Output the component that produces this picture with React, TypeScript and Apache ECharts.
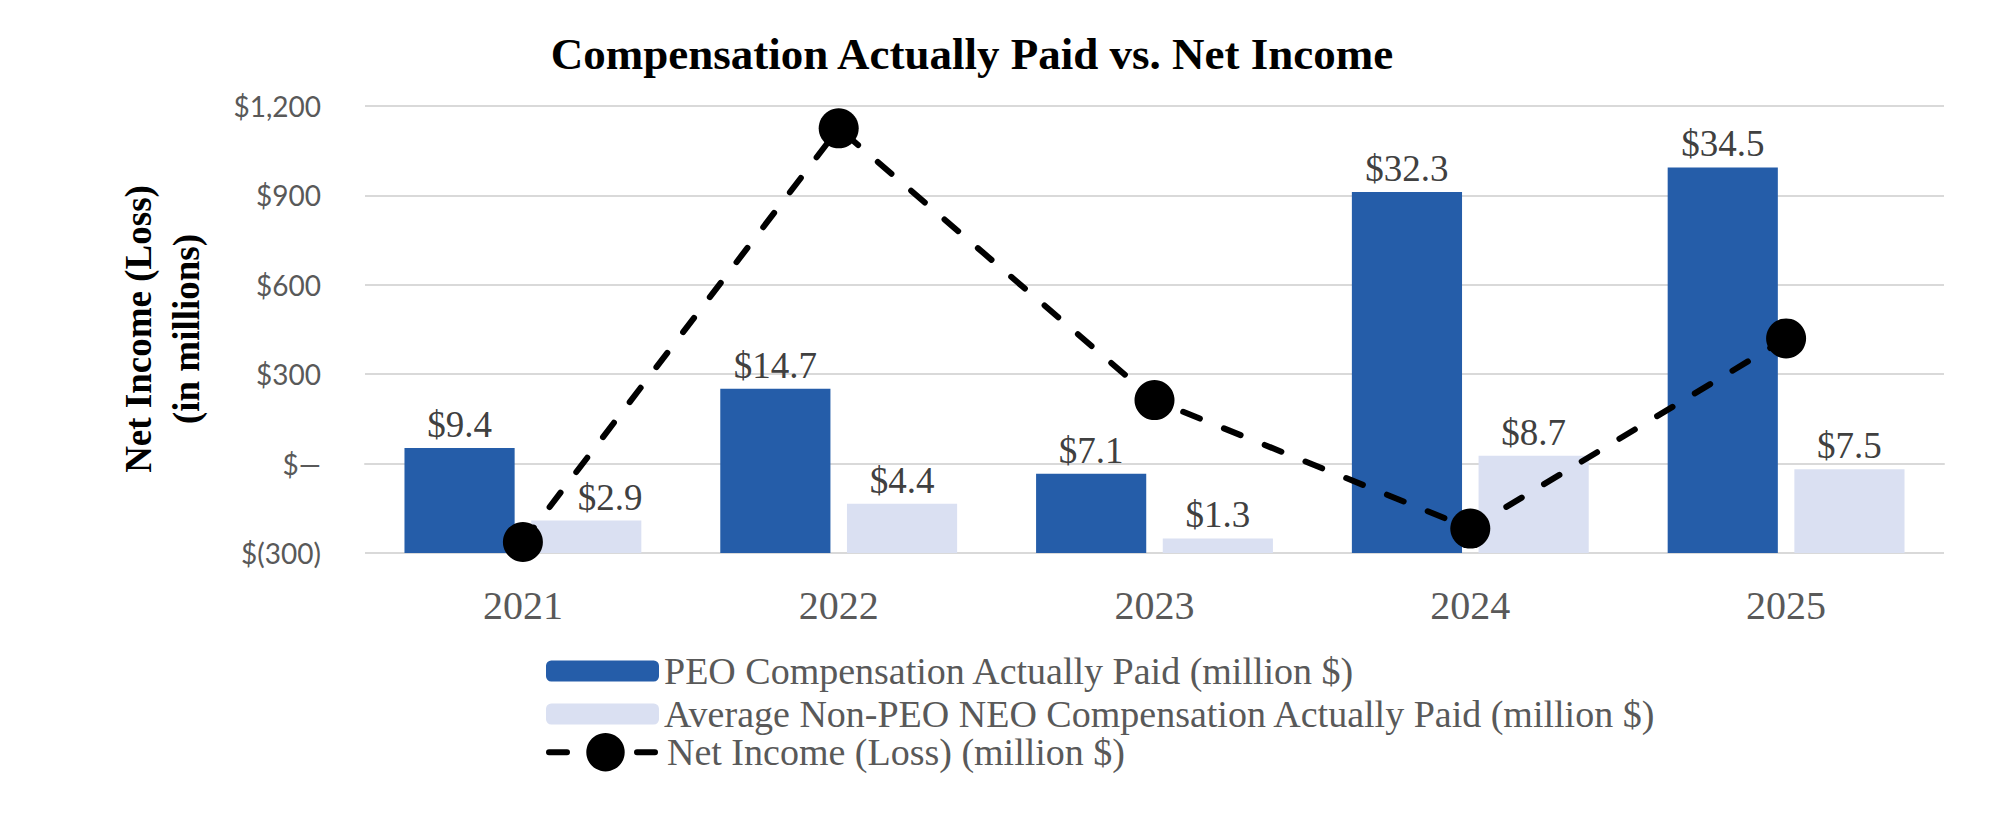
import React, { useEffect, useRef } from 'react';
import * as echarts from 'echarts';

// Fiscal years on the category axis
const years = ['2021', '2022', '2023', '2024', '2025'];
// Compensation actually paid, in $ millions
const peoCap = [9.4, 14.7, 7.1, 32.3, 34.5];
const neoAvgCap = [2.9, 4.4, 1.3, 8.7, 7.5];
// Net income (loss), in $ millions
const netIncome = [-263, 1125, 213, -218, 420];
// Left-axis ticks and their labels
const incomeTicks = [-300, 0, 300, 600, 900, 1200];
const incomeTickLabels = ['$(300)', '$\u2014', '$300', '$600', '$900', '$1,200'];
// Series names
const seriesNames = [
  'PEO Compensation Actually Paid (million $)',
  'Average Non-PEO NEO Compensation Actually Paid (million $)',
  'Net Income (Loss) (million $)',
];

const SERIF = '"Liberation Serif", "Times New Roman", serif';
const SANS = 'Lato, "Open Sans", sans-serif';
const GRID_COLOR = '#d9d9d9';
const TEXT_GRAY = '#595959';
const DASH = [18, 26];

export default function App() {
  const ref = useRef<HTMLDivElement>(null);

  useEffect(() => {
    if (!ref.current) return;
    const chart = echarts.init(ref.current, undefined, { renderer: 'svg' });

    const legendText = { fontFamily: SERIF, fontSize: 38, color: TEXT_GRAY, lineHeight: 38 };

    chart.setOption({
      animation: false,
      backgroundColor: '#ffffff',
      grid: { left: 365, right: 56, top: 106, bottom: 285, containLabel: false },
      graphic: [
        {
          type: 'text',
          x: 972,
          y: 54,
          style: {
            text: 'Compensation Actually Paid vs. Net Income',
            font: `bold 45px ${SERIF}`,
            fill: '#000',
            textAlign: 'center',
            textVerticalAlign: 'middle',
          },
        },
        {
          type: 'text',
          x: 162,
          y: 329,
          rotation: Math.PI / 2,
          style: {
            text: 'Net Income (Loss)\n(in millions)',
            font: `bold 37px ${SERIF}`,
            lineHeight: 48,
            fill: '#000',
            textAlign: 'center',
            textVerticalAlign: 'middle',
          },
        },
      ],
      legend: [
        {
          data: [seriesNames[0]],
          left: 546,
          top: 652,
          padding: 0,
          itemWidth: 113,
          itemHeight: 21,
          textStyle: legendText,
          selectedMode: false,
        },
        {
          data: [seriesNames[1]],
          left: 546,
          top: 695,
          padding: 0,
          itemWidth: 113,
          itemHeight: 21,
          textStyle: legendText,
          selectedMode: false,
        },
        {
          data: [seriesNames[2]],
          left: 546,
          top: 733,
          padding: 0,
          itemWidth: 113,
          itemHeight: 48,
          textStyle: legendText,
          lineStyle: { width: 6, type: DASH, cap: 'round', color: '#000' },
          selectedMode: false,
        },
      ],
      xAxis: {
        type: 'category',
        data: years,
        axisTick: { show: false },
        axisLine: { show: true, lineStyle: { color: GRID_COLOR, width: 2 } },
        axisLabel: { fontFamily: SERIF, fontSize: 40, color: TEXT_GRAY, margin: 32 },
      },
      yAxis: [
        {
          type: 'value',
          min: -300,
          max: 1200,
          interval: 300,
          axisLine: { show: false },
          axisTick: { show: false },
          splitLine: { show: true, lineStyle: { color: GRID_COLOR, width: 2 } },
          axisLabel: {
            fontFamily: SANS,
            fontSize: 28,
            color: TEXT_GRAY,
            margin: 44,
            formatter: (v: number) => {
              const i = incomeTicks.indexOf(v);
              return i >= 0 ? incomeTickLabels[i] : '';
            },
          },
        },
        {
          type: 'value',
          min: 0,
          max: 40,
          show: false,
          splitLine: { show: false },
        },
      ],
      series: [
        {
          name: seriesNames[0],
          type: 'bar',
          yAxisIndex: 1,
          data: peoCap,
          barGap: '15%',
          barCategoryGap: '25%',
          itemStyle: { color: '#255DA9' },
          label: {
            show: true,
            position: 'top',
            distance: 5,
            fontFamily: SERIF,
            fontSize: 37,
            color: '#404040',
            formatter: (p: any) => '$' + Number(p.value).toFixed(1),
          },
          z: 2,
        },
        {
          name: seriesNames[1],
          type: 'bar',
          yAxisIndex: 1,
          data: neoAvgCap.map((v, i) =>
            i === 0 ? { value: v, label: { offset: [24, 0] } } : v
          ),
          itemStyle: { color: '#DAE0F2' },
          label: {
            show: true,
            position: 'top',
            distance: 5,
            fontFamily: SERIF,
            fontSize: 37,
            color: '#404040',
            formatter: (p: any) => '$' + Number(p.value).toFixed(1),
          },
          z: 2,
        },
        {
          name: seriesNames[2],
          type: 'line',
          yAxisIndex: 0,
          data: netIncome,
          symbol: 'circle',
          symbolSize: 40,
          itemStyle: { color: '#000000' },
          lineStyle: { color: '#000000', width: 6, type: DASH, cap: 'round' },
          z: 5,
        },
      ],
    });

    return () => chart.dispose();
  }, []);

  return (
    <div
      ref={ref}
      style={{ position: 'fixed', left: 0, top: 0, width: 2000, height: 838, background: '#fff' }}
    />
  );
}
